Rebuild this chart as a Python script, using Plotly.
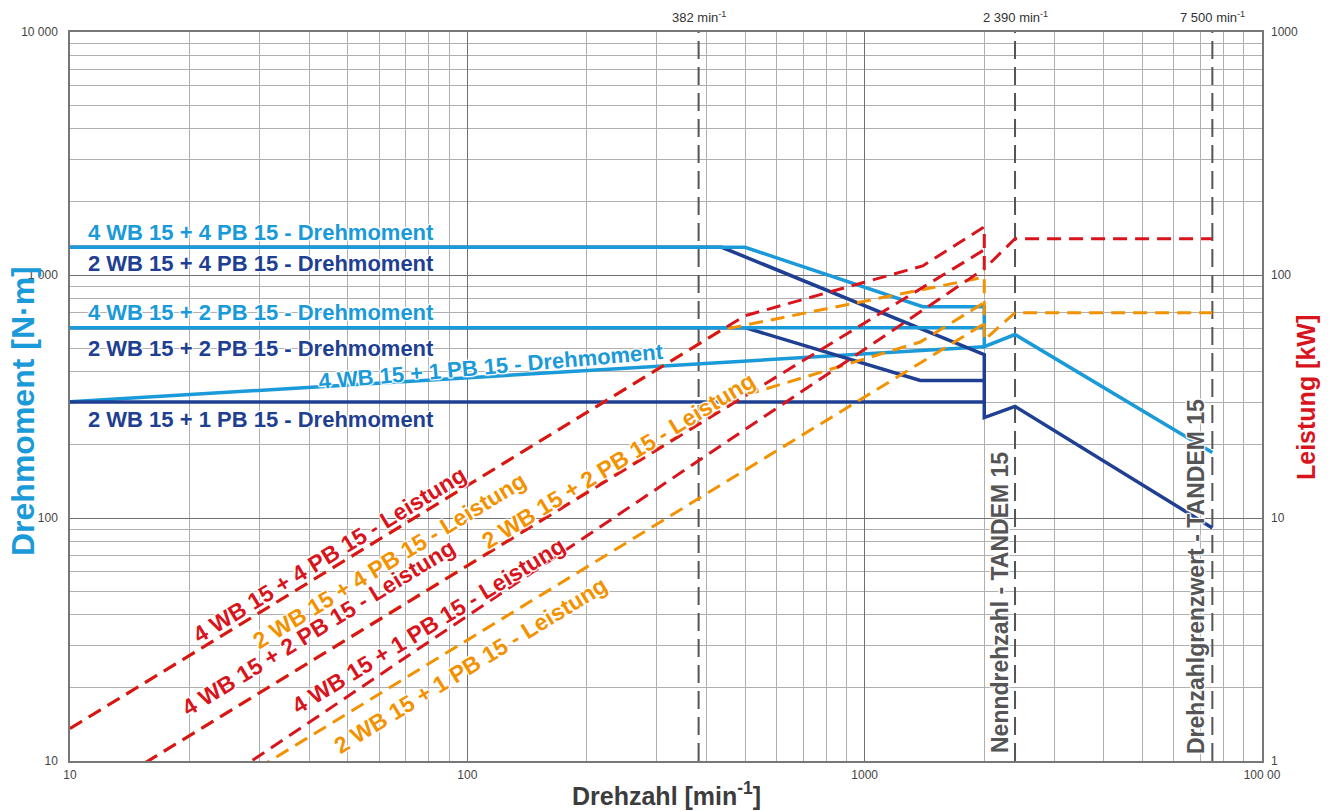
import plotly.graph_objects as go
import numpy as np

# ---------------- data ----------------
# Torque curves (N·m) vs speed (min^-1)
n_4wb4pb_t = [10, 500, 1400, 2000, 2000, 2390, 7500]
t_4wb4pb = [1300, 1300, 741, 741, 507, 569, 186]

n_2wb4pb_t = [10, 437, 2000, 2000, 2390, 7500]
t_2wb4pb = [1300, 1300, 470, 259, 288, 91]

n_4wb2pb_t = [10, 2000]
t_4wb2pb = [607, 607]

n_2wb2pb_t = [10, 500, 1380, 2000]
t_2wb2pb = [607, 607, 368, 368]

n_4wb1pb_t = [10, 2000]
t_4wb1pb = [301, 507]

n_2wb1pb_t = [10, 2000]
t_2wb1pb = [300, 300]

# Power curves (kW) vs speed (min^-1)
n_4wb4pb_p = [10, 500, 1400, 2000, 2000, 2390, 7500]
p_4wb4pb = [1.36, 68, 109, 158, 106, 141, 141]

n_4wb2pb_p = [10, 2000]
p_4wb2pb = [0.636, 127]

n_4wb1pb_p = [10, 2000]
p_4wb1pb = [0.315, 106]

n_2wb4pb_p = [10, 437, 2000, 2000, 2390, 7500]
p_2wb4pb = [1.36, 59.5, 98, 54, 70, 70]

n_2wb2pb_p = [10, 500, 1380, 2000]
p_2wb2pb = [0.636, 32, 53, 77]

n_2wb1pb_p = [10, 2000]
p_2wb1pb = [0.314, 63]

# reference speeds
ref_speeds = [382, 2390, 7500]
ref_speed_labels = ["382 min<sup>-1</sup>", "2 390 min<sup>-1</sup>", "7 500 min<sup>-1</sup>"]

# ticks
x_tickvals = [10, 100, 1000, 10000]
x_ticktext = ["10", "100", "1000", "100 00"]
y_tickvals = [10, 100, 1000, 10000]
y_ticktext = ["10", "100", "1 000", "10 000"]
y2_tickvals = [1, 10, 100, 1000]
y2_ticktext = ["1", "10", "100", "1000"]

# ---------------- style ----------------
LBLUE = "#1a9ad8"
DBLUE = "#1f3f92"
RED = "#d8141c"
ORANGE = "#f39200"
VGRAY = "#555555"
FONT = "Liberation Sans, Arial, sans-serif"
HALO = "1px 1px 1px white, -1px -1px 1px white, 1px -1px 1px white, -1px 1px 1px white, 0px 0px 3px white"

W, H = 1332, 811
L, T = 70, 32
PW, PH = 1192, 729
R, B = W - L - PW, H - T - PH


def px(x):
    return (x - L) / PW


def py(y):
    return (T + PH - y) / PH


fig = go.Figure()

# vertical reference lines
for s in ref_speeds:
    fig.add_trace(go.Scatter(x=[s, s], y=[10, 10000], mode="lines",
                             line=dict(color=VGRAY, width=2, dash="18px,8px"),
                             hoverinfo="skip", showlegend=False))

# power curves (secondary axis)
power = [
    (n_2wb1pb_p, p_2wb1pb, ORANGE),
    (n_2wb2pb_p, p_2wb2pb, ORANGE),
    (n_2wb4pb_p, p_2wb4pb, ORANGE),
    (n_4wb1pb_p, p_4wb1pb, RED),
    (n_4wb2pb_p, p_4wb2pb, RED),
    (n_4wb4pb_p, p_4wb4pb, RED),
]
for xs, ys, c in power:
    fig.add_trace(go.Scatter(x=xs, y=ys, yaxis="y2", mode="lines",
                             line=dict(color=c, width=3, dash="14px,8px"),
                             showlegend=False))

# torque curves
torque = [
    (n_4wb1pb_t, t_4wb1pb, LBLUE),
    (n_2wb1pb_t, t_2wb1pb, DBLUE),
    (n_2wb4pb_t, t_2wb4pb, DBLUE),
    (n_2wb2pb_t, t_2wb2pb, DBLUE),
    (n_4wb4pb_t, t_4wb4pb, LBLUE),
    (n_4wb2pb_t, t_4wb2pb, LBLUE),
]
for xs, ys, c in torque:
    fig.add_trace(go.Scatter(x=xs, y=ys, mode="lines",
                             line=dict(color=c, width=3.5),
                             showlegend=False))

ann = []


def label(text, x, y, color, size=22, angle=0, xanchor="center", halo=True):
    f = dict(family=FONT, size=size, color=color, weight="bold")
    if halo:
        f["shadow"] = HALO
    ann.append(dict(text=text, x=px(x), y=py(y), xref="paper", yref="paper",
                    showarrow=False, textangle=angle, xanchor=xanchor, yanchor="middle",
                    font=f))


# torque labels
label("4 WB 15 + 4 PB 15 - Drehmoment", 86, 233, LBLUE, xanchor="left")
label("2 WB 15 + 4 PB 15 - Drehmoment", 86, 263, DBLUE, xanchor="left")
label("4 WB 15 + 2 PB 15 - Drehmoment", 86, 312, LBLUE, xanchor="left")
label("2 WB 15 + 2 PB 15 - Drehmoment", 86, 348, DBLUE, xanchor="left")
label("2 WB 15 + 1 PB 15 - Drehmoment", 86, 419, DBLUE, xanchor="left")
label("4 WB 15 + 1 PB 15 - Drehmoment", 491, 366, LBLUE, angle=-5)

# power labels
PA = -31.5
PS = 23
label("4 WB 15 + 4 PB 15 - Leistung", 329, 555, RED, size=PS, angle=PA)
label("2 WB 15 + 4 PB 15 - Leistung", 389, 561, ORANGE, size=PS, angle=PA)
label("2 WB 15 + 2 PB 15 - Leistung", 618, 461, ORANGE, size=PS, angle=PA)
label("4 WB 15 + 2 PB 15 - Leistung", 318, 628, RED, size=PS, angle=PA)
label("4 WB 15 + 1 PB 15 - Leistung", 428, 626, RED, size=PS, angle=PA)
label("2 WB 15 + 1 PB 15 - Leistung", 471, 665, ORANGE, size=PS, angle=PA)

# vertical line labels
label("Nenndrehzahl - TANDEM 15", 1000, 603, VGRAY, size=23, angle=-90)
label("Drehzahlgrenzwert - TANDEM 15", 1196, 577, VGRAY, size=23, angle=-90)

# reference speed labels on top
for s, t in zip(ref_speeds, ref_speed_labels):
    ann.append(dict(text=t, x=np.log10(s), y=py(17), xref="x", yref="paper",
                    showarrow=False, xanchor="center", yanchor="middle",
                    font=dict(family=FONT, size=13, color="#333333")))

# axis titles
ann.append(dict(text="Drehmoment [N·m]", x=px(23), y=py(411), xref="paper", yref="paper",
                showarrow=False, textangle=-90, xanchor="center", yanchor="middle",
                font=dict(family=FONT, size=32, color=LBLUE, weight="bold")))
ann.append(dict(text="Leistung [kW]", x=px(1306), y=py(397), xref="paper", yref="paper",
                showarrow=False, textangle=-90, xanchor="center", yanchor="middle",
                font=dict(family=FONT, size=25, color=RED, weight="bold")))
ann.append(dict(text="Drehzahl [min<sup>-1</sup>]", x=px(666), y=py(794), xref="paper", yref="paper",
                showarrow=False, xanchor="center", yanchor="middle",
                font=dict(family=FONT, size=25, color="#3c3c3c", weight="bold")))

grid_minor = "#b0b0b0"
grid_major = "#707070"
tickfont = dict(family=FONT, size=12, color="#444444")

fig.update_layout(
    width=W, height=H,
    margin=dict(l=L, r=R, t=T, b=B),
    paper_bgcolor="white", plot_bgcolor="white",
    showlegend=False,
    annotations=ann,
    xaxis=dict(type="log", range=[1, 4], tickmode="array", tickvals=x_tickvals, ticktext=x_ticktext,
               showgrid=True, gridcolor=grid_major, gridwidth=1,
               minor=dict(dtick="D1", showgrid=True, gridcolor=grid_minor, gridwidth=1),
               showline=True, linecolor="#777777", linewidth=1.5, mirror=True,
               ticks="", zeroline=False, tickfont=tickfont, ticklabelstandoff=2),
    yaxis=dict(type="log", range=[1, 4], tickmode="array", tickvals=y_tickvals, ticktext=y_ticktext,
               showgrid=True, gridcolor=grid_major, gridwidth=1,
               minor=dict(dtick="D1", showgrid=True, gridcolor=grid_minor, gridwidth=1),
               showline=True, linecolor="#777777", linewidth=1.5, mirror=True,
               ticks="", zeroline=False, tickfont=tickfont, ticklabelstandoff=8),
    yaxis2=dict(type="log", range=[0, 3], overlaying="y", side="right",
                tickmode="array", tickvals=y2_tickvals, ticktext=y2_ticktext,
                showgrid=False, zeroline=False, ticks="", tickfont=tickfont,
                ticklabelstandoff=8),
)

fig.write_html("out.html",
               config={"displayModeBar": False},
               post_script="document.body.style.margin='0';document.body.style.overflow='hidden';")
